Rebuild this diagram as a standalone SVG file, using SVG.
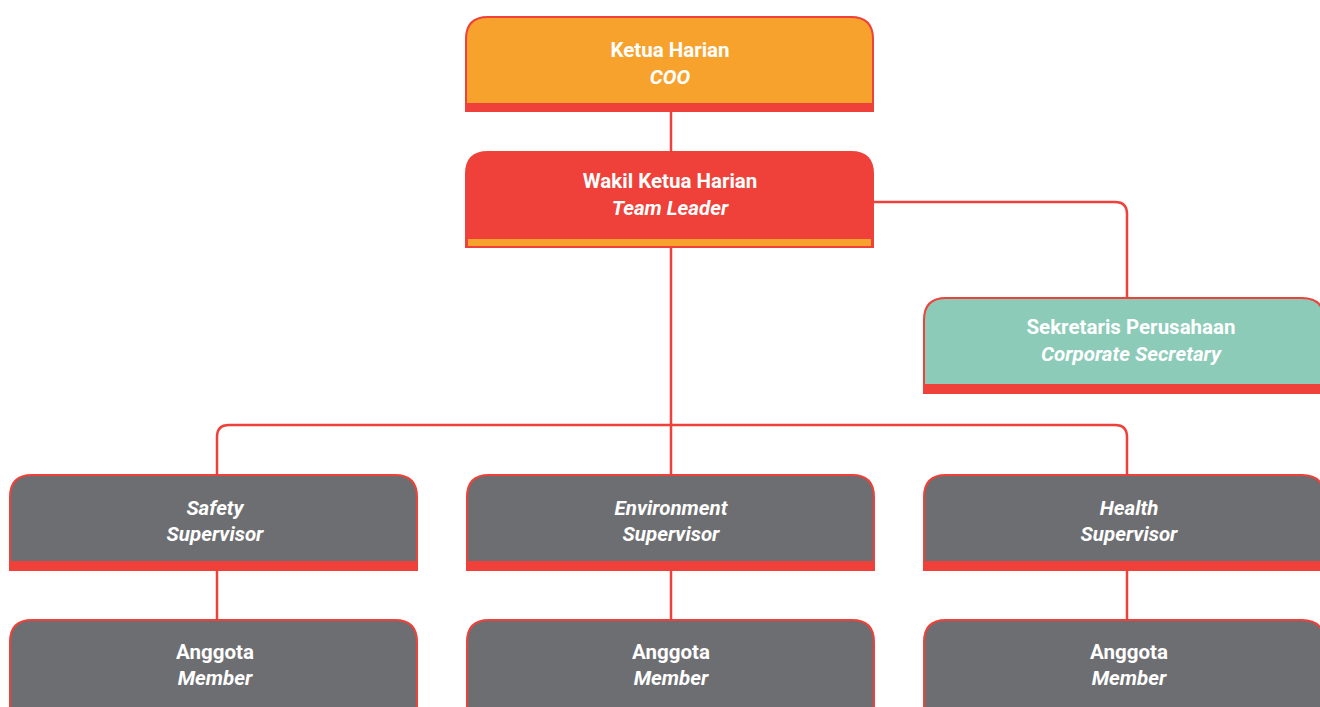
<svg xmlns="http://www.w3.org/2000/svg" width="1320" height="707" viewBox="0 0 1320 707">
<style>
.box{stroke:#EF4139;stroke-width:2}
.t{font-family:Roboto,"Liberation Sans",sans-serif;font-size:20.5px;font-weight:bold;fill:#fff;text-anchor:middle}
.i{font-style:italic}
.c{fill:none;stroke:#EF4139;stroke-width:2.5}
</style>
<rect width="1320" height="707" fill="#fff"/>
<g id="connectors">
<path class="c" d="M671 111V152M671 247V475"/>
<path class="c" d="M873 202H1115Q1127 202 1127 214V298"/>
<path class="c" d="M217 475V437Q217 425 229 425H1115Q1127 425 1127 437V475"/>
<path class="c" d="M217 570V620M671 570V620M1127 570V620"/>
</g>
<g id="ketua">
<path class="box" fill="#F7A22D" d="M466 111V39Q466 17 488 17H851Q873 17 873 39V111Z"/>
<rect x="466" y="103" width="407" height="8" fill="#EF4139"/>
<text class="t" x="670" y="57">Ketua Harian</text>
<text class="t i" x="670" y="84">COO</text>
</g>
<g id="wakil">
<path class="box" fill="#EF4139" d="M466 247V174Q466 152 488 152H851Q873 152 873 174V247Z"/>
<rect x="468" y="239" width="403" height="7" fill="#F7A22D"/>
<text class="t" x="670" y="188">Wakil Ketua Harian</text>
<text class="t i" x="670" y="215">Team Leader</text>
</g>
<g id="sekretaris">
<path class="box" fill="#8BCBB8" d="M924 393V320Q924 298 946 298H1302Q1324 298 1324 320V393Z"/>
<rect x="924" y="384" width="400" height="9" fill="#EF4139"/>
<text class="t" x="1131" y="334">Sekretaris Perusahaan</text>
<text class="t i" x="1131" y="361">Corporate Secretary</text>
</g>
<g id="safety">
<path class="box" fill="#6D6E71" d="M10 570V497Q10 475 32 475H395Q417 475 417 497V570Z"/>
<rect x="10" y="561" width="407" height="9" fill="#EF4139"/>
<text class="t i" x="215" y="515">Safety</text>
<text class="t i" x="215" y="541">Supervisor</text>
</g>
<g id="environment">
<path class="box" fill="#6D6E71" d="M467 570V497Q467 475 489 475H852Q874 475 874 497V570Z"/>
<rect x="467" y="561" width="407" height="9" fill="#EF4139"/>
<text class="t i" x="671" y="515">Environment</text>
<text class="t i" x="671" y="541">Supervisor</text>
</g>
<g id="health">
<path class="box" fill="#6D6E71" d="M924 570V497Q924 475 946 475H1302Q1324 475 1324 497V570Z"/>
<rect x="924" y="561" width="400" height="9" fill="#EF4139"/>
<text class="t i" x="1129" y="515">Health</text>
<text class="t i" x="1129" y="541">Supervisor</text>
</g>
<g id="anggota1">
<path class="box" fill="#6D6E71" d="M10 710V642Q10 620 32 620H395Q417 620 417 642V710Z"/>
<text class="t" x="215" y="659">Anggota</text>
<text class="t i" x="215" y="685">Member</text>
</g>
<g id="anggota2">
<path class="box" fill="#6D6E71" d="M467 710V642Q467 620 489 620H852Q874 620 874 642V710Z"/>
<text class="t" x="671" y="659">Anggota</text>
<text class="t i" x="671" y="685">Member</text>
</g>
<g id="anggota3">
<path class="box" fill="#6D6E71" d="M924 710V642Q924 620 946 620H1302Q1324 620 1324 642V710Z"/>
<text class="t" x="1129" y="659">Anggota</text>
<text class="t i" x="1129" y="685">Member</text>
</g>
</svg>
